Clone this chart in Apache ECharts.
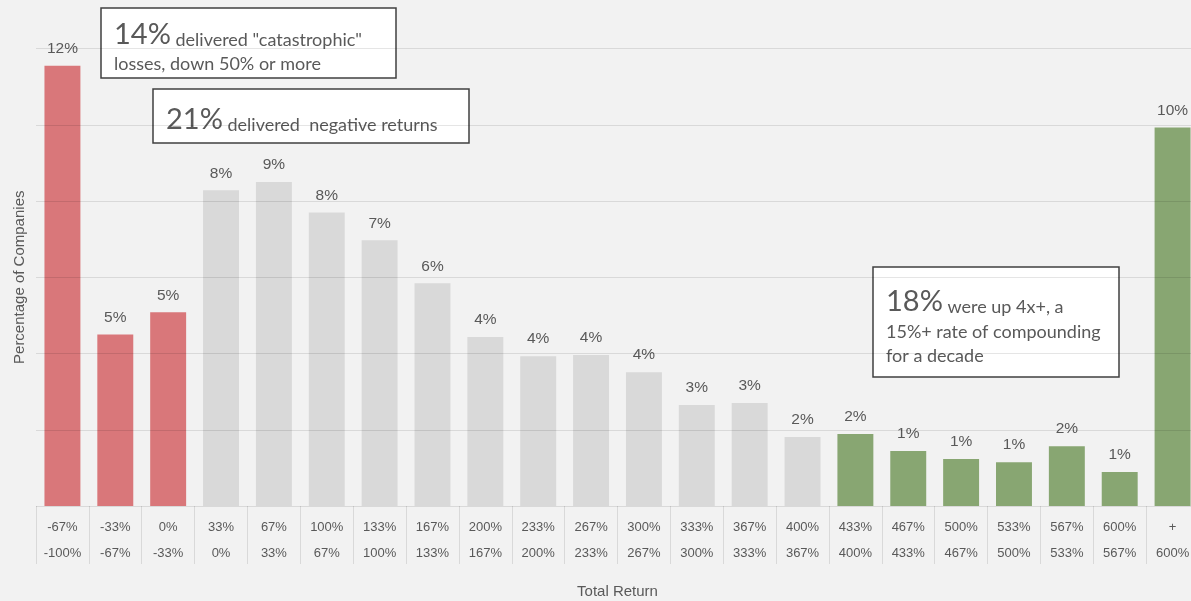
<!DOCTYPE html>
<html>
<head>
<meta charset="utf-8">
<script src="https://cdn.jsdelivr.net/npm/echarts@6/dist/echarts.min.js"></script>
<style>
  html, body { margin: 0; padding: 0; background: #f2f2f2; }
  #main { width: 1191px; height: 601px; }
</style>
</head>
<body>
<div id="main"></div>
<script>
// range labels, upper bound on top and lower bound below
const rangeTop = ["-67%", "-33%", "0%", "33%", "67%", "100%", "133%", "167%", "200%", "233%", "267%",
  "300%", "333%", "367%", "400%", "433%", "467%", "500%", "533%", "567%", "600%", "+"];
const rangeBottom = ["-100%", "-67%", "-33%", "0%", "33%", "67%", "100%", "133%", "167%", "200%", "233%",
  "267%", "300%", "333%", "367%", "400%", "433%", "467%", "500%", "533%", "567%", "600%"];

// share of companies in each bucket (%)
const shares = [11.55, 4.5, 5.08, 8.28, 8.5, 7.7, 6.97, 5.84, 4.43, 3.93, 3.96,
  3.51, 2.65, 2.7, 1.81, 1.89, 1.44, 1.23, 1.15, 1.57, 0.89, 9.93];

// bucket group: loss / neutral / winner
const groups = ["loss", "loss", "loss", "mid", "mid", "mid", "mid", "mid", "mid", "mid", "mid",
  "mid", "mid", "mid", "mid", "win", "win", "win", "win", "win", "win", "win"];

const groupColors = { loss: "#d9777a", mid: "#d9d9d9", win: "#88a672" };

const categories = rangeTop.map((t, i) => t + "\n" + rangeBottom[i]);

const chart = echarts.init(document.getElementById("main"));

const txt = "#595959";
const boxFont = "Lato, 'Open Sans', sans-serif";

function noteBox(x, y, w, h, lines) {
  const children = [{
    type: "rect",
    shape: { x: x, y: y, width: w, height: h },
    style: { fill: "#ffffff", stroke: "#404040", lineWidth: 1.5 },
  }];
  lines.forEach((l) => {
    children.push({
      type: "text",
      x: x + 13,
      y: l.y,
      style: {
        text: l.text,
        fill: txt,
        fontFamily: boxFont,
        fontSize: 18,
        verticalAlign: "middle",
        rich: {
          big: { fontSize: 29, fill: txt, fontFamily: boxFont, lineHeight: 34, verticalAlign: "bottom" },
          s: { fontSize: 18, fill: txt, fontFamily: boxFont, lineHeight: 28, verticalAlign: "bottom" },
        },
      },
    });
  });
  return { type: "group", children: children };
}

const option = {
  backgroundColor: "#f2f2f2",
  animation: false,
  grid: { left: 36, top: 48.5, bottom: 95, width: 1163, containLabel: false, outerBoundsMode: "none" },
  xAxis: {
    type: "category",
    data: categories,
    name: "Total Return",
    nameLocation: "middle",
    nameGap: 78,
    nameTextStyle: { color: txt, fontSize: 15, fontFamily: "'Liberation Sans', Arial, sans-serif" },
    axisLine: { show: false },
    axisTick: { show: true, interval: 0, length: 58, lineStyle: { color: "#d9d9d9" } },
    axisLabel: {
      interval: 0,
      margin: 8,
      color: txt,
      fontSize: 13,
      lineHeight: 26,
      fontFamily: "'Liberation Sans Narrow', 'Liberation Sans', Arial, sans-serif",
    },
  },
  yAxis: {
    type: "value",
    min: 0,
    max: 12,
    interval: 2,
    z: 3,
    name: "Percentage of Companies",
    nameLocation: "middle",
    nameGap: 9,
    nameTextStyle: { color: txt, fontSize: 15, fontFamily: "'Liberation Sans', Arial, sans-serif" },
    axisLabel: { show: false },
    axisLine: { show: false },
    axisTick: { show: false },
    splitLine: { lineStyle: { color: "rgba(0,0,0,0.1)", width: 1 } },
  },
  series: [{
    type: "bar",
    barCategoryGap: "32%",
    data: shares.map((v, i) => ({ value: v, itemStyle: { color: groupColors[groups[i]] } })),
    label: {
      show: true,
      position: "top",
      distance: 9,
      color: txt,
      fontSize: 15.5,
      fontFamily: "'Liberation Sans', Arial, sans-serif",
      formatter: (p) => Math.round(p.value) + "%",
    },
  }],
  graphic: [
    noteBox(101, 8, 295, 70, [
      { y: 32, text: "{big|14%} {s|delivered \"catastrophic\"}" },
      { y: 64, text: "losses, down 50% or more" },
    ]),
    noteBox(153, 89, 316, 54, [
      { y: 117, text: "{big|21%} {s|delivered  negative returns}" },
    ]),
    noteBox(873, 267, 246, 110, [
      { y: 299, text: "{big|18%} {s|were up 4x+, a}" },
      { y: 332, text: "15%+ rate of compounding" },
      { y: 356, text: "for a decade" },
    ]),
  ],
};

chart.setOption(option);
</script>
</body>
</html>
